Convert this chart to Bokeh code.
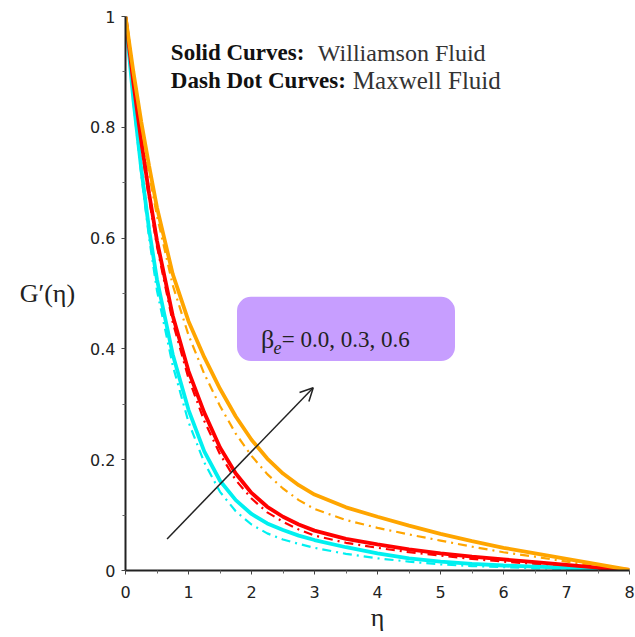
from bokeh.plotting import figure
from bokeh.models import (Range1d, FixedTicker, Label, Arrow, OpenHead, BoxAnnotation)
from bokeh.embed import file_html
from bokeh.resources import INLINE

# ---- data ----
eta = [0, 0.125, 0.25, 0.375, 0.5, 0.75, 1.0, 1.25, 1.5, 1.75, 2.0, 2.25, 2.5, 2.75, 3.0,
       3.5, 4.0, 4.5, 5.0, 5.5, 6.0, 6.5, 7.0, 7.5, 8.0]

# Williamson fluid (solid curves), beta_e = 0.0, 0.3, 0.6
will_b00 = [1, 0.85, 0.725, 0.615, 0.525, 0.39, 0.29, 0.215, 0.162, 0.127, 0.102, 0.085, 0.073, 0.063, 0.055,
            0.042, 0.031, 0.022, 0.016, 0.012, 0.009, 0.007, 0.005, 0.002, 0.0]
will_b03 = [1, 0.88, 0.775, 0.68, 0.595, 0.46, 0.36, 0.285, 0.222, 0.175, 0.140, 0.115, 0.097, 0.083, 0.072,
            0.057, 0.047, 0.038, 0.031, 0.025, 0.020, 0.015, 0.010, 0.005, 0.001]
will_b06 = [1, 0.90, 0.81, 0.73, 0.655, 0.535, 0.450, 0.385, 0.328, 0.278, 0.236, 0.202, 0.175, 0.154, 0.137,
            0.114, 0.097, 0.081, 0.066, 0.053, 0.041, 0.031, 0.021, 0.011, 0.001]

# Maxwell fluid (dash dot curves), beta_e = 0.0, 0.3, 0.6
max_b00 = [1, 0.845, 0.715, 0.60, 0.505, 0.37, 0.268, 0.195, 0.142, 0.107, 0.083, 0.067, 0.056, 0.048, 0.041,
           0.030, 0.022, 0.016, 0.011, 0.008, 0.006, 0.004, 0.003, 0.001, 0.0]
max_b03 = [1, 0.875, 0.765, 0.67, 0.585, 0.448, 0.347, 0.27, 0.21, 0.163, 0.130, 0.105, 0.088, 0.074, 0.063,
           0.050, 0.041, 0.033, 0.027, 0.021, 0.016, 0.012, 0.008, 0.004, 0.001]
max_b06 = [1, 0.895, 0.80, 0.715, 0.64, 0.515, 0.425, 0.355, 0.297, 0.247, 0.207, 0.174, 0.148, 0.127, 0.111,
           0.091, 0.077, 0.065, 0.054, 0.043, 0.033, 0.025, 0.016, 0.008, 0.001]

x_ticks = [0, 1, 2, 3, 4, 5, 6, 7, 8]
x_minor = [0.5, 1.5, 2.5, 3.5, 4.5, 5.5, 6.5, 7.5]
y_ticks = [0, 0.2, 0.4, 0.6, 0.8, 1.0]
y_minor = [0.1, 0.3, 0.5, 0.7, 0.9]
y_tick_labels = ["0", "0.2", "0.4", "0.6", "0.8", "1"]

colors = {"b00": "#00F0F0", "b03": "#FF0000", "b06": "#FFA500"}

p = figure(width=635, height=637, output_backend="svg", toolbar_location=None,
           x_range=Range1d(0, 8), y_range=Range1d(0, 1),
           min_border_left=125, min_border_right=6, min_border_top=16, min_border_bottom=67)
p.outline_line_color = None
p.grid.visible = False
p.background_fill_color = "white"

# curves
for ys, key in [(max_b00, "b00"), (max_b03, "b03"), (max_b06, "b06")]:
    p.line(eta, ys, line_color=colors[key], line_width=2.2, line_dash="9 5 2 5")
for ys, key in [(will_b00, "b00"), (will_b03, "b03"), (will_b06, "b06")]:
    p.line(eta, ys, line_color=colors[key], line_width=3.8)

# axes
p.xaxis.ticker = FixedTicker(ticks=x_ticks, minor_ticks=x_minor)
p.yaxis.ticker = FixedTicker(ticks=y_ticks, minor_ticks=y_minor)
p.yaxis.major_label_overrides = {t: l for t, l in zip(y_ticks, y_tick_labels)}
for ax in (p.xaxis, p.yaxis):
    ax.axis_line_width = 2
    ax.axis_line_color = "#222222"
    ax.major_tick_in = 0
    ax.major_tick_out = 4
    ax.minor_tick_in = 0
    ax.minor_tick_out = 3
    ax.major_tick_line_color = "#444444"
    ax.minor_tick_line_color = "#666666"
    ax.major_label_text_font = "DejaVu Sans"
    ax.major_label_text_font_size = "16px"
    ax.major_label_text_color = "#222222"
    ax.axis_label_text_font = "Liberation Serif"
    ax.axis_label_text_font_style = "normal"
    ax.axis_label_text_color = "#222222"
p.xaxis.major_label_standoff = 11
p.yaxis.major_label_standoff = 6

p.xaxis.axis_label = "η"
p.xaxis.axis_label_text_font_size = "26px"
p.xaxis.axis_label_standoff = 2
p.yaxis.axis_label = "G′(η)"
p.yaxis.axis_label_orientation = "horizontal"
p.yaxis.axis_label_text_font_size = "26px"
p.yaxis.axis_label_standoff = 12

# header text
p.add_layout(Label(x=0.72, y=0.935, text="Solid Curves:", text_font="Liberation Serif",
                   text_font_style="bold", text_font_size="23px", text_color="#111111",
                   text_baseline="alphabetic"))
p.add_layout(Label(x=0.72, y=0.935, x_offset=147, text="Williamson Fluid", text_font="Liberation Serif",
                   text_font_size="24px", text_color="#333333", text_baseline="alphabetic"))
p.add_layout(Label(x=0.72, y=0.884, text="Dash Dot Curves:", text_font="Liberation Serif",
                   text_font_style="bold", text_font_size="23px", text_color="#111111",
                   text_baseline="alphabetic"))
p.add_layout(Label(x=0.72, y=0.884, x_offset=182, text="Maxwell Fluid", text_font="Liberation Serif",
                   text_font_size="25px", text_color="#333333", text_baseline="alphabetic"))

# purple parameter box
p.add_layout(BoxAnnotation(left=1.77, right=5.23, bottom=0.378, top=0.494,
                           fill_color="#C79EFF", fill_alpha=1.0, line_color=None,
                           border_radius=14))
p.add_layout(Label(x=2.15, y=0.417, text="β", text_font="Liberation Serif",
                   text_font_size="26px", text_color="#222222", text_baseline="alphabetic"))
p.add_layout(Label(x=2.35, y=0.403, text="e", text_font="Liberation Serif", text_font_style="italic",
                   text_font_size="18px", text_color="#222222", text_baseline="alphabetic"))
p.add_layout(Label(x=2.48, y=0.417, text="= 0.0, 0.3, 0.6", text_font="Liberation Serif",
                   text_font_size="23px", text_color="#222222", text_baseline="alphabetic"))

# arrow
p.add_layout(Arrow(end=OpenHead(size=13, line_width=1.5, line_color="#222222"),
                   x_start=0.66, y_start=0.057, x_end=2.98, y_end=0.33,
                   line_width=1.5, line_color="#222222"))

open("out.html", "w").write(file_html(p, INLINE))
